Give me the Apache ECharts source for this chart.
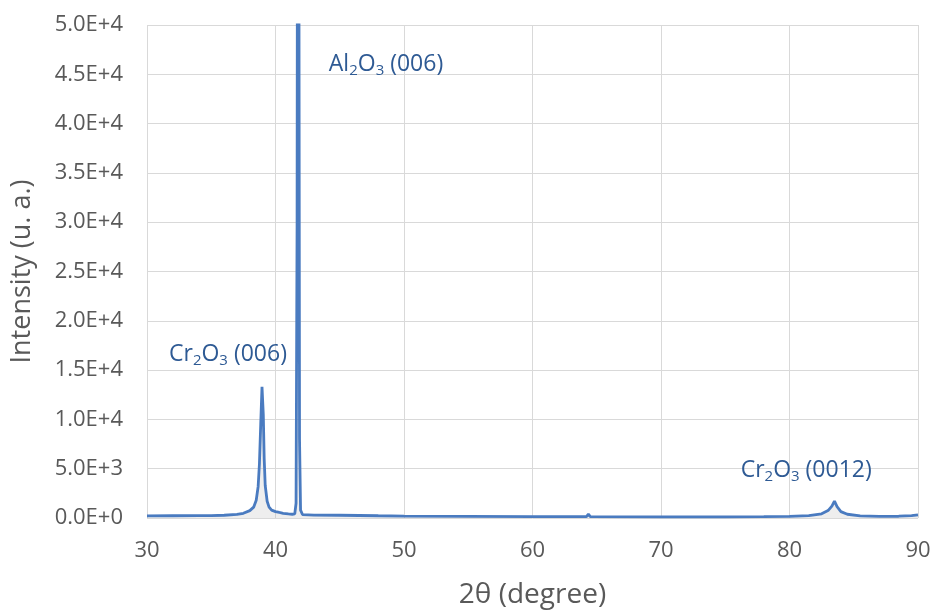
<!DOCTYPE html>
<html>
<head>
<meta charset="utf-8">
<script src="https://cdn.jsdelivr.net/npm/echarts@6/dist/echarts.min.js"></script>
<style>
html,body{margin:0;padding:0;background:#fff;}
#chart{width:935px;height:610px;}
</style>
</head>
<body>
<div id="chart"></div>
<script>
// Data (2θ in degrees, intensity in a.u.)
const twoTheta = [30, 32, 34, 35, 36, 37, 37.5, 38, 38.3, 38.5, 38.65, 38.75, 38.85, 38.95, 39.05, 39.12, 39.2, 39.35, 39.5, 39.7, 40.0, 40.3, 40.6, 41.0, 41.3, 41.5, 41.6, 41.68, 41.72, 41.77, 41.82, 41.87, 41.95, 42.1, 43, 45, 48, 50, 55, 60, 64.2, 64.35, 64.5, 70, 75, 78, 80, 81.5, 82.5, 83.0, 83.3, 83.5, 83.7, 84.0, 84.5, 85.5, 87, 88.5, 89.5, 90];
const intensity = [220, 230, 240, 250, 280, 360, 480, 750, 1100, 1800, 3200, 5500, 9500, 13300, 10500, 6000, 3300, 1700, 1100, 800, 650, 560, 480, 420, 380, 420, 1500, 30000, 80000, 120000, 60000, 8000, 800, 350, 300, 280, 230, 200, 170, 140, 140, 380, 140, 120, 120, 130, 160, 240, 420, 750, 1200, 1720, 1150, 650, 380, 220, 170, 180, 240, 320];
const yTicks = [0, 5000, 10000, 15000, 20000, 25000, 30000, 35000, 40000, 45000, 50000];
const xTicks = [30, 40, 50, 60, 70, 80, 90];
const peakLabels = [
  {formula: ['Cr', '2', 'O', '3'], hkl: ' (006)', x: 36.3, y: 16600},
  {formula: ['Al', '2', 'O', '3'], hkl: ' (006)', x: 48.6, y: 46000},
  {formula: ['Cr', '2', 'O', '3'], hkl: ' (0012)', x: 81.3, y: 4800}
];

const FONT = '"Open Sans", "Liberation Sans", sans-serif';
const labelBlue = '#2E5A94';
const gray = '#595959';

const seriesData = twoTheta.map((t, i) => [t, intensity[i]]);

function fmtE(v) {
  if (v === 0) return '0.0E+0';
  const e = Math.floor(Math.log10(v));
  const m = v / Math.pow(10, e);
  return m.toFixed(1) + 'E+' + e;
}

const markData = peakLabels.map(p => ({
  coord: [p.x, p.y],
  label: {
    formatter: '{n|' + p.formula[0] + '}{s|' + p.formula[1] + '}{n|' + p.formula[2] + '}{s|' + p.formula[3] + '}{n|' + p.hkl + '}'
  }
}));

const chart = echarts.init(document.getElementById('chart'), null, {renderer: 'canvas'});
chart.setOption({
  animation: false,
  backgroundColor: '#ffffff',
  grid: {left: 147, right: 17, top: 25, bottom: 92, containLabel: false, outerBoundsMode: 'none'},
  xAxis: {
    type: 'value',
    min: xTicks[0], max: xTicks[xTicks.length - 1], interval: 10,
    name: '2θ (degree)',
    nameLocation: 'middle',
    nameGap: 63,
    nameTextStyle: {fontFamily: FONT, fontSize: 28, color: gray},
    axisLine: {show: false},
    axisTick: {show: false},
    axisLabel: {fontFamily: FONT, fontSize: 22, color: gray, margin: 22},
    splitLine: {show: true, lineStyle: {color: '#d9d9d9', width: 1}}
  },
  yAxis: {
    type: 'value',
    min: yTicks[0], max: yTicks[yTicks.length - 1], interval: 5000,
    name: 'Intensity (u. a.)',
    nameLocation: 'middle',
    nameGap: 111,
    nameTextStyle: {fontFamily: FONT, fontSize: 27, color: gray},
    axisLine: {show: false},
    axisTick: {show: false},
    axisLabel: {fontFamily: FONT, fontSize: 22, color: gray, margin: 24, formatter: fmtE},
    splitLine: {show: true, lineStyle: {color: '#d9d9d9', width: 1}}
  },
  series: [{
    type: 'line',
    data: seriesData,
    showSymbol: false,
    symbol: 'none',
    clip: true,
    lineStyle: {color: '#4A7BC0', width: 2.8},
    areaStyle: {color: 'rgba(185,185,185,0.35)'},
    markPoint: {
      symbol: 'circle',
      symbolSize: 0,
      data: markData,
      label: {
        show: true,
        position: 'inside',
        rich: {
          n: {fontFamily: FONT, fontSize: 23, color: labelBlue, lineHeight: 30},
          s: {fontFamily: FONT, fontSize: 15, color: labelBlue, lineHeight: 30, padding: [13, 0, 0, 0]}
        }
      }
    }
  }]
});
</script>
</body>
</html>
